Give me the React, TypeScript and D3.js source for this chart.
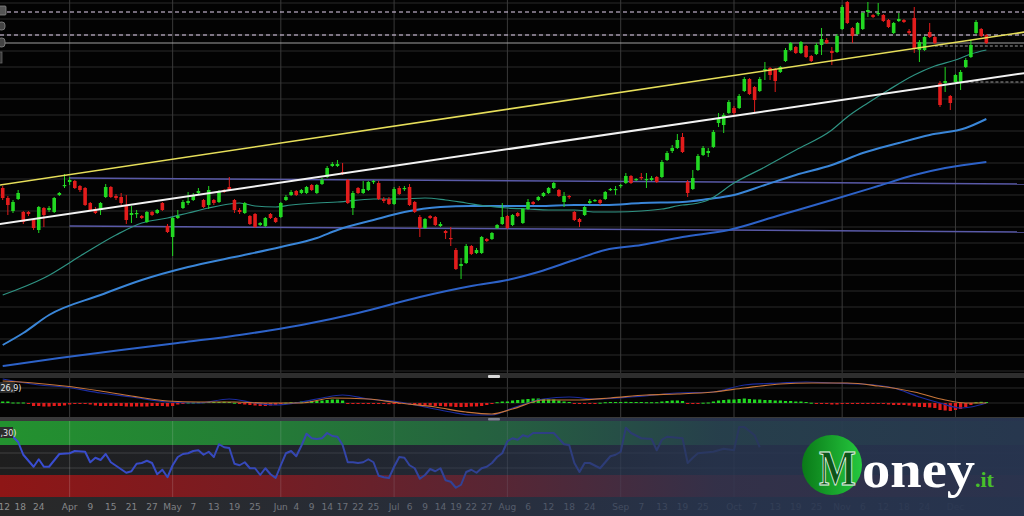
import React from 'react';
import * as d3 from 'd3';

// ---------- DATA (price units; one candle per trading day) ----------
const ohlc: [number, number, number, number][] = [
  [212,214,200,202],[202,204,185,195],[189,200,187,198],[201,210,200,207],[188,189,176,178],
  [188,189,184,186],[180,181,170,172],[170,194,167,193],[192,193,173,185],[190,194,188,192],
  [188,203,187,202],[205,208,204,207],[214,226,212,215],[218,223,215,220],[219,220,211,212],
  [214,215,208,210],[212,213,194,195],[197,198,189,190],[191,193,186,187],[190,198,185,197],
  [203,216,202,213],[213,214,202,203],[204,206,200,202],[203,207,195,197],[195,205,176,180],
  [185,194,177,187],[186,190,182,187],[184,185,181,182],[178,189,177,188],[188,189,184,185],
  [187,191,186,190],[197,198,189,190],[174,176,167,168],[163,183,144,182],[182,190,181,184],
  [192,200,191,198],[197,208,195,199],[200,207,199,205],[207,212,206,209],[200,201,192,193],
  [195,214,191,210],[200,201,195,197],[198,210,197,208],[210,211,207,208],[213,223,209,210],
  [200,201,187,190],[190,192,186,188],[187,198,186,197],[184,185,175,176],[186,187,172,173],
  [175,178,174,177],[174,183,173,182],[186,187,181,182],[182,183,177,178],[183,198,182,197],
  [200,205,199,203],[205,210,204,208],[209,210,204,205],[207,211,206,210],[207,214,206,213],
  [215,216,209,210],[207,216,206,215],[216,222,215,220],[223,234,222,232],[234,238,233,236],
  [234,240,233,236],[228,237,225,226],[220,221,196,197],[192,209,185,207],[212,213,206,207],
  [207,219,206,211],[210,219,209,218],[218,220,216,219],[217,219,200,201],[201,203,197,199],
  [201,203,195,196],[196,213,195,211],[212,214,205,206],[211,214,209,212],[213,216,194,195],
  [198,199,187,188],[183,185,163,172],[172,182,171,181],[184,185,181,182],[183,184,174,175],
  [174,178,173,176],[169,170,161,167],[162,173,154,161],[150,152,130,131],[134,142,121,136],
  [137,156,136,154],[154,155,145,146],[147,152,146,150],[147,164,146,163],[161,162,158,159],
  [161,168,160,167],[172,176,171,175],[176,197,175,183],[184,185,171,172],[175,186,174,185],
  [187,188,183,184],[177,192,176,191],[191,201,190,198],[198,199,195,196],[200,204,199,203],
  [204,208,203,207],[207,213,206,212],[212,218,211,217],[210,211,203,204],[198,208,193,204],
  [204,205,201,203],[188,189,179,180],[181,182,173,178],[185,194,184,193],[197,201,196,199],
  [199,201,198,200],[200,201,195,197],[201,209,200,208],[210,212,209,211],[210,214,205,211],
  [214,216,212,215],[217,227,216,224],[224,225,216,217],[220,222,219,221],[223,227,220,222],
  [220,227,212,221],[220,224,219,222],[223,224,217,218],[223,240,222,238],[240,249,239,247],
  [249,255,247,252],[252,266,251,260],[263,267,247,248],[218,220,203,207],[211,230,210,222],
  [230,246,229,244],[245,254,244,252],[247,252,243,249],[253,270,252,268],[277,287,273,282],
  [275,287,267,285],[287,300,286,298],[292,294,285,287],[292,306,291,304],[309,323,308,321],
  [321,322,305,306],[313,314,288,300],[309,323,308,321],[330,338,320,331],[332,333,320,325],
  [331,332,308,319],[328,334,327,333],[339,352,338,350],[350,358,349,357],[353,354,346,347],
  [347,359,346,358],[354,355,342,343],[344,345,338,339],[346,357,345,355],[355,372,345,361],
  [360,362,356,357],[349,353,335,347],[348,366,347,364],[371,395,370,393],[398,399,376,377],
  [372,373,357,364],[366,378,365,377],[371,388,370,387],[388,398,383,390],[385,386,382,383],
  [386,397,384,387],[385,386,378,379],[380,381,372,373],[367,378,366,377],[379,387,378,381],
  [380,381,377,378],[369,371,365,367],[382,393,347,352],[350,360,338,358],[350,364,349,363],
  [368,377,362,363],[363,364,356,357],[317,319,293,295],[317,333,308,319],[304,305,290,297],
  [318,326,317,325],[318,330,310,328],[333,342,332,340],[343,360,342,355],[367,380,366,378],
  [371,372,363,364],[365,366,356,357]
];

const maFast: [number, number][] = [[0,105],[8,122],[16,147],[22,165],[27,177],[32,182],[36,187],[40,192],[44,196],[46,197],[49,194],[53,193],[56,195],[61,197],[65,198],[72,201],[77,201],[82,202],[86,200],[90,197],[94,194],[98,192],[102,191],[106,190],[111,190],[115,188],[119,188],[124,189],[128,191],[132,195],[134,196],[137,200],[142,217],[148,233],[154,250],[161,270],[164,283],[168,297],[172,310],[177,325],[181,334],[185,340],[188,346],[191,350]];
const maMid: [number, number][] = [[0,55],[4,67],[9,85],[19,105],[27,120],[36,133],[45,143],[54,153],[61,162],[65,170],[72,180],[78,188],[85,193],[91,194],[98,194],[104,194],[111,195],[117,195],[124,197],[132,198],[137,201],[142,205],[148,215],[154,225],[161,235],[167,247],[174,257],[180,265],[187,272],[191,281]];
const maSlow: [number, number][] = [[0,34],[11,42],[23,50],[34,57],[46,65],[58,75],[69,87],[81,103],[91,114],[98,120],[104,128],[111,140],[117,150],[124,155],[132,163],[141,170],[151,185],[161,200],[170,214],[177,225],[183,232],[191,238]];

const trendYellow: [number, number][] = [[-0.6, 215], [198.5, 368]];
const trendWhite: [number, number][] = [[-0.6, 176], [198.5, 327]];
const channelUpper: [number, number][] = [[13, 222], [198.5, 216]];
const channelLower: [number, number][] = [[13, 174], [198.5, 168]];
const dashedLevels = [388, 365];
const solidLevel = 357;
const shortLevels: [number, number][] = [[181, 354], [185, 318]];

const macdHist: number[] = [
  1.5,1.5,0.5,0.5,0.5,-1,-3,-3,-3.5,-3.5,
  -3,-3,-2.5,-1.5,-1,-1,-1,-1.5,-2.5,-3,
  -3,-3,-3,-3,-3.5,-3.5,-3.5,-3.5,-3.5,-3,
  -3,-3,-3.5,-3,-1.5,-0.5,0.5,0.5,0.8,0.8,
  1,1,1,1.2,1,0.3,-1,-1.5,-2,-2.5,
  -3,-3,-2.5,-2,-0.8,0.3,0.8,1,1.5,1.5,
  2,2,2.5,3,3.5,3.5,2.5,-0.5,-0.8,-0.8,
  -1,-1,-1,-1,-1,-1.2,-1,-1,-1,-1.2,
  -1.5,-2,-2.5,-2.5,-3,-3,-3.5,-3.5,-4,-4,
  -4,-3.5,-3.5,-3,-2,-1,0.8,1.5,1.5,2.5,
  3,3.5,4,4.5,4.5,4,3.5,3.5,2.5,1.5,
  1,-0.5,-1,-1,-0.8,-0.5,0.3,0.8,1,1,
  1,1.2,1,1,1,0.8,0.8,0.8,1.5,2,
  2.5,2.5,2,-0.5,-0.8,-0.5,0.3,0.5,1.5,2.5,
  3,3.5,3.5,4,4.5,4,3.5,3.5,3,3,
  2.5,2.5,2,2,1.5,1.5,1,0.3,-0.3,-0.5,
  -1,-1.5,-1.5,-0.3,-0.3,-0.5,-0.5,-0.5,-0.5,-0.8,
  -0.8,-1,-1.5,-2,-2,-2,-2.5,-3.5,-4,-4,
  -4.5,-5,-7,-7.5,-8,-7,-6,-4,-2,0.8,
  1.2,1
];
const macdLine: [number, number][] = [[0,24],[7,18],[12,16],[19,10],[25,6],[32,1],[38,0],[44,4],[49,0],[53,-2],[58,1],[62,5],[66,8],[71,4],[77,1],[82,-4],[87,-9],[91,-12],[95,-12],[99,-5],[105,4],[110,6],[115,4],[122,6],[131,10],[138,11],[144,18],[151,20],[156,21],[161,20],[167,19],[173,15],[178,6],[182,0],[186,-5],[188,-4],[191,0]];
const signalLine: [number, number][] = [[0,22],[6,20],[12,17],[19,12],[25,7],[32,2],[38,1],[45,1],[51,0],[58,0],[64,5],[71,4],[77,0],[84,-4],[90,-9],[95,-11],[99,-6],[105,3],[112,3],[118,5],[125,8],[131,9],[138,11],[144,15],[151,19],[157,20],[164,20],[170,17],[177,11],[183,3],[187,0],[191,0]];

const rsi: [number, number][] = [[0,83],[2,81],[3,74],[4,57],[6,41],[7,51],[8,41],[9,41],[11,58],[13,59],[14,62],[16,61],[17,47],[18,53],[19,50],[20,58],[21,47],[24,33],[25,35],[26,45],[27,46],[28,49],[29,46],[30,31],[31,37],[32,27],[33,43],[34,54],[35,58],[36,59],[37,62],[38,63],[39,57],[40,61],[41,54],[42,71],[43,67],[44,66],[45,45],[46,43],[47,47],[48,39],[49,39],[50,30],[51,39],[52,31],[53,26],[54,43],[55,59],[56,62],[57,55],[58,69],[59,85],[60,79],[61,78],[62,79],[63,86],[64,82],[65,81],[66,70],[67,47],[68,47],[69,46],[70,47],[71,51],[72,47],[73,29],[74,27],[75,26],[76,41],[77,54],[78,53],[79,43],[80,39],[81,25],[82,30],[83,38],[84,35],[85,39],[86,23],[87,21],[88,13],[89,17],[90,34],[91,37],[92,33],[93,39],[94,41],[95,46],[96,54],[97,59],[98,75],[99,79],[100,77],[101,83],[102,81],[103,86],[105,86],[107,86],[109,71],[110,70],[111,46],[112,34],[113,46],[114,46],[116,39],[117,47],[118,55],[119,57],[120,61],[121,93],[122,86],[124,79],[126,78],[127,63],[128,77],[129,81],[132,79],[133,46],[134,53],[135,59],[138,61],[140,65],[142,63],[143,94],[144,94],[146,83],[147,67]];

const monthStarts = [13, 33, 54, 76, 98, 120, 142, 163, 185];
const tickLabels: [number, string][] = [
  [0.3,'12'],[3.4,'18'],[7,'24'],[13,'Apr'],[17,'9'],[21,'15'],[25,'21'],[29,'27'],[33,'May'],[37,'7'],[41,'13'],[45,'19'],[49,'25'],
  [54,'Jun'],[57,'4'],[60,'9'],[63,'14'],[66,'17'],[69,'22'],[72,'25'],[76,'Jul'],[79,'6'],[82,'9'],[85,'14'],[88,'19'],[91,'22'],[94,'27'],
  [98,'Aug'],[102,'6'],[106,'12'],[110,'18'],[114,'24'],[120,'Sep'],[124,'7'],[128,'13'],[132,'19'],[136,'25'],[142,'Oct'],[146,'7'],[150,'13'],
  [154,'19'],[158,'25'],[163,'Nov'],[167,'6'],[171,'12'],[175,'18'],[179,'24'],[185,'Dec']
];

const GREEN = '#22d822';
const RED = '#e21c1c';

export default function App() {
  const x = d3.scaleLinear().domain([0, 191]).range([2.7, 986.35]);
  const y = d3.scaleLinear().domain([28, 400]).range([372, 0]);
  const yM = d3.scaleLinear().domain([-14, 25]).range([417, 378]);
  const yR = d3.scaleLinear().domain([0, 100]).range([497.5, 422.5]);

  const lineP = d3.line<[number, number]>().x(d => x(d[0])).y(d => y(d[1]));
  const smoothP = d3.line<[number, number]>().x(d => x(d[0])).y(d => y(d[1])).curve(d3.curveMonotoneX);
  const smoothM = d3.line<[number, number]>().x(d => x(d[0])).y(d => yM(d[1])).curve(d3.curveMonotoneX);
  const lineR = d3.line<[number, number]>().x(d => x(d[0])).y(d => yR(d[1]));

  const hGrid = d3.range(3, 372, 16);

  return (
    <svg width={1024} height={516} style={{ position: 'absolute', left: 0, top: 0, background: '#000' }}>
      <defs>
        <clipPath id="mainClip"><rect x={0} y={0} width={1024} height={373} /></clipPath>
        <linearGradient id="ov" x1="0" x2="1" y1="0" y2="0">
          <stop offset="0" stopColor="#27344f" stopOpacity={0} />
          <stop offset="0.25" stopColor="#27344f" stopOpacity={0.22} />
          <stop offset="0.5" stopColor="#27344f" stopOpacity={0.55} />
          <stop offset="0.7" stopColor="#27344f" stopOpacity={0.88} />
          <stop offset="1" stopColor="#27344f" stopOpacity={0.97} />
        </linearGradient>
        <linearGradient id="ball" x1="0" x2="1" y1="0" y2="0">
          <stop offset="0" stopColor="#0a7a18" />
          <stop offset="1" stopColor="#25c83e" />
        </linearGradient>
      </defs>

      <rect x={0} y={0} width={1024} height={516} fill="#030303" />

      {/* main pane grid */}
      {hGrid.map(g => <line key={'h' + g} x1={0} x2={1024} y1={g} y2={g} stroke="#2a2a2a" strokeWidth={1} />)}
      {monthStarts.map(m => <line key={'v' + m} x1={x(m)} x2={x(m)} y1={0} y2={497} stroke="#3a3a3a" strokeWidth={1} />)}

      <g clipPath="url(#mainClip)">
        {/* levels */}
        {dashedLevels.map(l => <line key={'d' + l} x1={0} x2={1024} y1={y(l)} y2={y(l)} stroke="#e6d4f2" strokeWidth={1} strokeDasharray="4 3" />)}
        <line x1={0} x2={1024} y1={y(solidLevel)} y2={y(solidLevel)} stroke="#a0a0a0" strokeWidth={1} />
        {shortLevels.map(([i, v]) => <line key={'s' + v} x1={x(i)} x2={1024} y1={y(v)} y2={y(v)} stroke="#9a9a9a" strokeWidth={1} strokeDasharray="3 2" />)}
        {/* channel */}
        <path d={lineP(channelUpper) || ''} stroke="#5a5aa8" strokeWidth={1.5} fill="none" />
        <path d={lineP(channelLower) || ''} stroke="#5a5aa8" strokeWidth={1.5} fill="none" />
        {/* moving averages */}
        <path d={smoothP(maSlow) || ''} stroke="#2d62c8" strokeWidth={2} fill="none" />
        <path d={smoothP(maMid) || ''} stroke="#3a86d8" strokeWidth={2} fill="none" />
        <path d={smoothP(maFast) || ''} stroke="#2f9383" strokeWidth={1.2} fill="none" />
        {/* candles */}
        {ohlc.map((d, i) => {
          const [o, h, l, c] = d;
          const col = c >= o ? GREEN : RED;
          const top = y(Math.max(o, c));
          const bot = y(Math.min(o, c));
          return (
            <g key={'c' + i}>
              <line x1={x(i)} x2={x(i)} y1={y(h)} y2={y(l)} stroke={col} strokeWidth={1} />
              <rect x={x(i) - 1.8} y={top} width={3.6} height={Math.max(1.2, bot - top)} fill={col} />
            </g>
          );
        })}
        {/* trendlines */}
        <path d={lineP(trendYellow) || ''} stroke="#e6de5a" strokeWidth={1.6} fill="none" />
        <path d={lineP(trendWhite) || ''} stroke="#f2f2f2" strokeWidth={2} fill="none" />
      </g>

      {/* left tool icons */}
      <rect x={-2} y={6} width={8} height={9} fill="#555" stroke="#888" strokeWidth={0.8} rx={1} />
      <rect x={-2} y={22} width={7} height={8} fill="#444" stroke="#888" strokeWidth={0.8} rx={3} />
      <rect x={-2} y={38} width={7} height={9} fill="#444" stroke="#888" strokeWidth={0.8} rx={3} />
      <rect x={-2} y={52} width={4} height={11} fill="#3a3a3a" stroke="#666" strokeWidth={0.8} />

      {/* separator 1 */}
      <rect x={0} y={373} width={1024} height={5} fill="#2e2e2e" />
      <rect x={488} y={375} width={12} height={3} rx={1} fill="#d8d8d8" />

      {/* MACD pane */}
      <line x1={0} x2={1024} y1={388} y2={388} stroke="#2a2a2a" />
      <line x1={0} x2={1024} y1={yM(0)} y2={yM(0)} stroke="#2a2a2a" />
      {macdHist.map((v, i) => (
        <rect key={'m' + i} x={x(i) - 1.6} y={v >= 0 ? yM(v) : yM(0)} width={3.2}
          height={Math.max(1, Math.abs(yM(v) - yM(0)))} fill={v >= 0 ? GREEN : RED} />
      ))}
      <path d={smoothM(macdLine) || ''} stroke="#1c2c9e" strokeWidth={1.2} fill="none" />
      <path d={smoothM(signalLine) || ''} stroke="#c8763a" strokeWidth={1.2} fill="none" />
      <rect x={0} y={382} width={15} height={11} fill="#2c2c2c" />
      <text x={0.5} y={390.5} fontSize={8} fill="#e8e8e8" fontFamily="DejaVu Sans, sans-serif">26,9)</text>

      {/* separator 2 */}
      <rect x={0} y={417} width={1024} height={4} fill="#3a3a3a" />
      <rect x={488} y={418} width={12} height={2.5} rx={1} fill="#d8d8d8" />

      {/* RSI pane */}
      <rect x={0} y={421} width={1024} height={yR(70) - 421} fill="#23922f" />
      <rect x={0} y={yR(70)} width={1024} height={yR(30) - yR(70)} fill="#1e1e1e" />
      <rect x={0} y={yR(30)} width={1024} height={497 - yR(30)} fill="#8e1616" />
      <line x1={0} x2={1024} y1={453} y2={453} stroke="#4a4a4a" strokeWidth={0.8} />
      <line x1={0} x2={1024} y1={468} y2={468} stroke="#4a4a4a" strokeWidth={0.8} />
      {monthStarts.map(m => <line key={'rv' + m} x1={x(m)} x2={x(m)} y1={421} y2={497} stroke="#ffffff" strokeOpacity={0.18} />)}
      <path d={lineR(rsi) || ''} stroke="#3a4ed6" strokeWidth={2} fill="none" strokeLinejoin="round" />
      <rect x={0} y={427} width={13} height={11} fill="#2c2c2c" />
      <text x={0.5} y={435.5} fontSize={8} fill="#e8e8e8" fontFamily="DejaVu Sans, sans-serif">,30)</text>

      {/* x axis row */}
      <rect x={0} y={497} width={1024} height={19} fill="#282828" />
      {tickLabels.map(([i, t], k) => (
        <text key={'t' + k} x={x(i)} y={509.5} fontSize={9} fill="#8e8e8e" textAnchor="middle" fontFamily="DejaVu Sans, sans-serif">{t}</text>
      ))}

      {/* branding overlay */}
      <rect x={0} y={418} width={1024} height={98} fill="url(#ov)" />
      <g>
        <circle cx={832} cy={465} r={30} fill="url(#ball)" />
        <text x={819} y={485} fontSize={50} fontWeight="bold" fontFamily="Liberation Serif, serif" fill="#0c5419"
          stroke="#f0f8f0" strokeWidth={0.9} textLength={37} lengthAdjust="spacingAndGlyphs">M</text>
        <text x={862} y={487} fontSize={52} fontWeight="bold" fontFamily="Liberation Serif, serif" fill="#ffffff"
          textLength={113} lengthAdjust="spacingAndGlyphs">oney</text>
        <text x={975} y={487} fontSize={22} fontWeight="bold" fontFamily="Liberation Serif, serif" fill="#48c02a">.it</text>
      </g>
    </svg>
  );
}
